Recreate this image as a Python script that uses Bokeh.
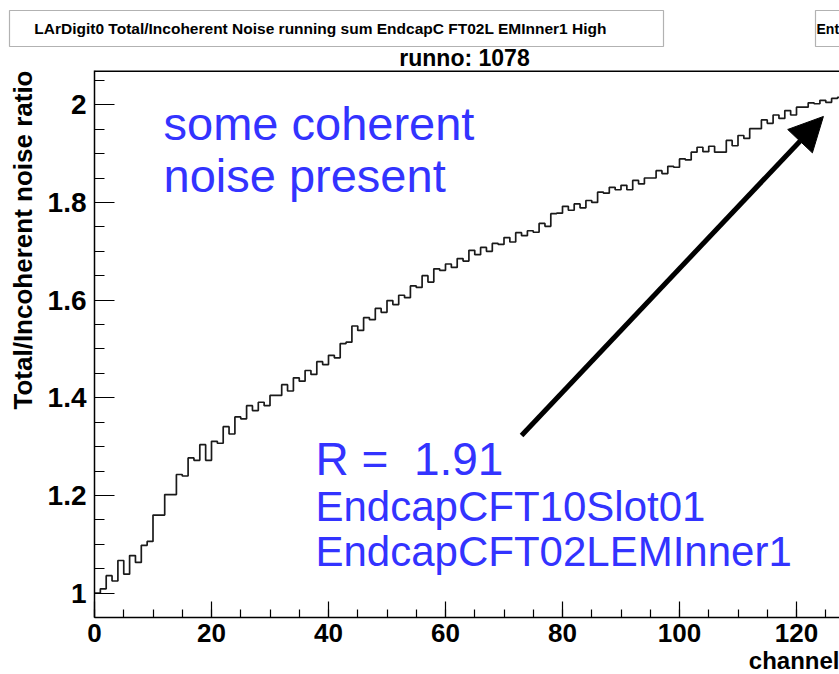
from bokeh.plotting import figure
from bokeh.layouts import column
from bokeh.models import (BoxAnnotation, Arrow, NormalHead, ColumnDataSource, Range1d, Span,
                          SingleIntervalTicker, CustomJSTickFormatter, Title)
from bokeh.core.properties import value
from bokeh.embed import file_html
from bokeh.resources import INLINE

# ---- data: total/incoherent noise ratio running sum, one value per channel bin ----
ratio = [
    1.000, 1.009, 1.036, 1.025, 1.067, 1.039, 1.077, 1.063, 1.098, 1.106,
    1.160, 1.160, 1.202, 1.202, 1.243, 1.240, 1.277, 1.272, 1.304, 1.272,
    1.311, 1.307, 1.341, 1.326, 1.361, 1.357, 1.384, 1.374, 1.391, 1.384,
    1.405, 1.405, 1.427, 1.414, 1.441, 1.434, 1.456, 1.448, 1.474, 1.468,
    1.487, 1.482, 1.511, 1.514, 1.547, 1.538, 1.564, 1.560, 1.583, 1.575,
    1.599, 1.591, 1.610, 1.605, 1.629, 1.626, 1.650, 1.637, 1.664, 1.661,
    1.674, 1.667, 1.685, 1.680, 1.702, 1.693, 1.708, 1.700, 1.716, 1.714,
    1.728, 1.719, 1.738, 1.732, 1.742, 1.739, 1.757, 1.751, 1.777, 1.778,
    1.792, 1.784, 1.797, 1.789, 1.804, 1.800, 1.821, 1.819, 1.831, 1.826,
    1.835, 1.826, 1.845, 1.838, 1.850, 1.850, 1.865, 1.859, 1.874, 1.872,
    1.889, 1.887, 1.903, 1.913, 1.904, 1.915, 1.903, 1.903, 1.927, 1.916,
    1.937, 1.931, 1.951, 1.951, 1.969, 1.962, 1.979, 1.972, 1.988, 1.979,
    1.995, 1.995, 2.004, 2.002, 2.009, 2.005, 2.013, 2.015,
]
bin_edges = list(range(len(ratio) + 1))  # channel bins of width 1
title_text = "LArDigit0 Total/Incoherent Noise running sum EndcapC FT02L EMInner1 High"
subtitle_text = "runno: 1078"
x_label = "channel"
y_label = "Total/Incoherent noise ratio"
note_lines = ["some coherent", "noise present"]
r_text = "R = \u00a01.91"
pair_lines = ["EndcapCFT10Slot01", "EndcapCFT02LEMInner1"]
stats_text = "Ent"  # stats pave, cut by the window edge in the original
arrow_from = (73.0, 1.323)
arrow_to = (124.6, 1.976)

W = 839
HEAD_H = 70
MAIN_H = 604
BLUE = "#3333FF"
FONT = "Liberation Sans"
MID = 0.3465  # baseline offset below the text-box middle, in em (Liberation Sans)

# ---------------- header (title pave, stats pave, run number) ----------------
head = figure(width=W, height=HEAD_H, x_range=Range1d(0, W), y_range=Range1d(HEAD_H, 0),
              x_axis_location=None, y_axis_location=None, min_border=0,
              output_backend="svg", toolbar_location=None)
head.frame_align = False
head.outline_line_color = None
head.xgrid.visible = False
head.ygrid.visible = False
for l, r in ((9, 663), (815, 870)):
    head.add_layout(BoxAnnotation(left=l, right=r, top=10, bottom=46, fill_alpha=0,
                                  line_color="black", line_width=1.2))

def htext(text, x, baseline_y, size, align="left"):
    src = ColumnDataSource(dict(x=[x], y=[baseline_y - MID * size], t=[text]))
    head.text(x="x", y="y", text="t", source=src, text_font=value(FONT),
              text_font_size=f"{size}px", text_font_style="bold", text_color="black",
              text_align=align, text_baseline="middle")

htext(title_text, 320, 33, 15.5, "center")
htext(stats_text, 816, 33, 14)
htext(subtitle_text, 464, 65, 23, "center")

# ---------------- main histogram frame ----------------
p = figure(width=W, height=MAIN_H, x_range=(0, 127.35), y_range=(0.9503, 2.0701),
           output_backend="svg", toolbar_location=None,
           min_border_left=94, min_border_right=0, min_border_top=0, min_border_bottom=57)
p.frame_align = False
p.outline_line_color = None
p.xgrid.visible = False
p.ygrid.visible = False

src = ColumnDataSource(dict(x=bin_edges, y=ratio + [ratio[-1]]))
p.step("x", "y", source=src, mode="after", line_color="#1a1a1a", line_width=1.7)

for ax in (p.xaxis[0], p.yaxis[0]):
    ax.axis_line_color = "black"
    ax.axis_line_width = 1.5
    ax.major_tick_line_color = "black"
    ax.minor_tick_line_color = "black"
    ax.major_tick_line_width = 1.2
    ax.minor_tick_line_width = 1.2
    ax.major_tick_out = 0
    ax.minor_tick_out = 0
    ax.major_label_text_font = FONT
    ax.major_label_text_font_style = "bold"
    ax.major_label_text_color = "black"

p.xaxis.ticker = SingleIntervalTicker(interval=20, num_minor_ticks=4)
p.xaxis.major_tick_in = 16
p.xaxis.minor_tick_in = 8
p.xaxis.major_label_standoff = 6
p.xaxis.major_label_text_font_size = "26px"

p.yaxis.ticker = SingleIntervalTicker(interval=0.2, num_minor_ticks=4)
p.yaxis.major_tick_in = 20
p.yaxis.minor_tick_in = 10
p.yaxis.major_label_standoff = 8
p.yaxis.major_label_text_font_size = "28px"
p.yaxis.formatter = CustomJSTickFormatter(code="return String(Number(tick.toFixed(1)));")

# top edge of the frame
p.add_layout(Span(location=2.0701, dimension="width", line_color="black", line_width=3))

p.add_layout(Title(text=y_label, align="right", vertical_align="middle", text_font=FONT,
                   text_font_size="26px", text_font_style="bold", text_color="black",
                   standoff=12), "left")
p.add_layout(Title(text=x_label, align="right", text_font=FONT, text_font_size="24px",
                   text_font_style="bold", text_color="black", standoff=0), "below")

# pixel -> data helpers for annotation placement inside the frame (canvas pixels)
def dx(px):
    return (px - 94) / 5.85

def dy(py):
    return 1 + (592.7 - py) / 488.5

def btext(text, px, baseline_py, size):
    src = ColumnDataSource(dict(x=[dx(px)], y=[dy(baseline_py - MID * size)], t=[text]))
    p.text(x="x", y="y", text="t", source=src, text_font=value(FONT),
           text_font_size=f"{size}px", text_color=BLUE,
           text_align="left", text_baseline="middle")

btext(note_lines[0], 163, 139, 47)
btext(note_lines[1], 163, 191, 47)
btext(r_text, 315, 474, 46)
btext(pair_lines[0], 315, 521, 42)
btext(pair_lines[1], 315, 566, 42)

p.add_layout(Arrow(end=NormalHead(size=34, fill_color="black", line_color="black"),
                   x_start=arrow_from[0], y_start=arrow_from[1],
                   x_end=arrow_to[0], y_end=arrow_to[1],
                   line_color="black", line_width=5))

layout = column(head, p, spacing=0)
open("out.html", "w").write(file_html(layout, INLINE))
